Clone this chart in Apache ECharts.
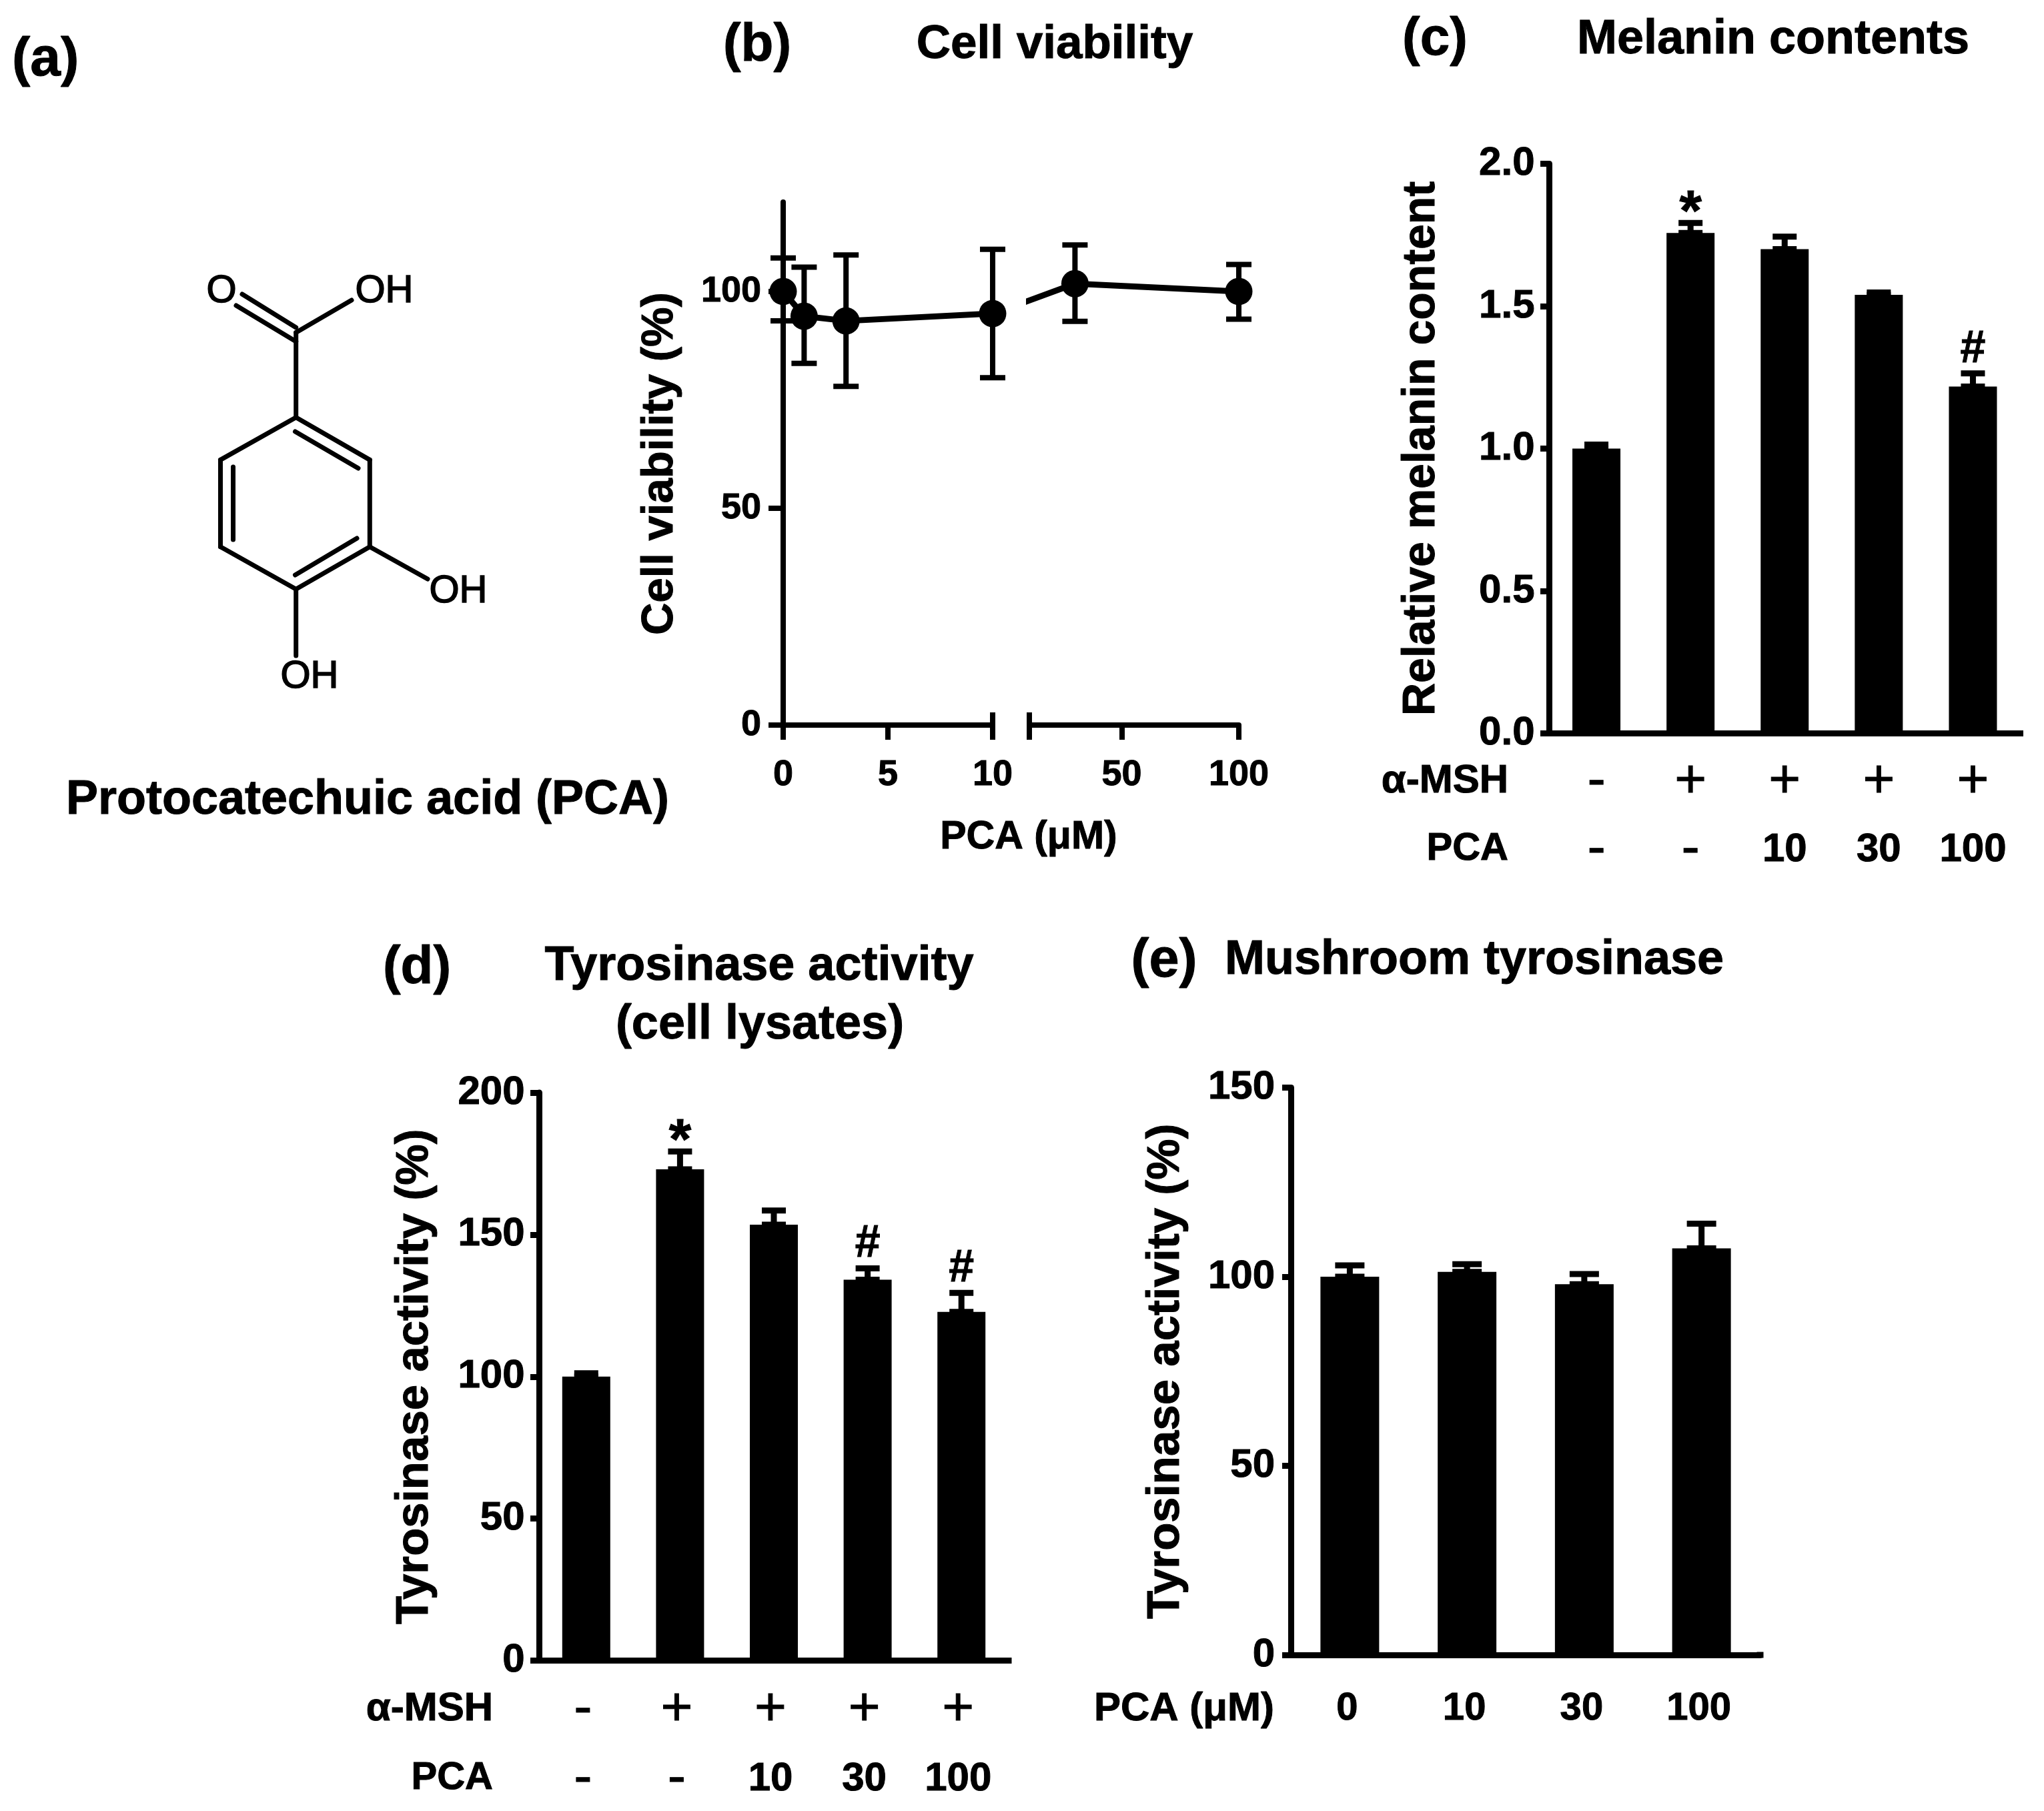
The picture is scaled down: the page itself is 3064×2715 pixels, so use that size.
<!DOCTYPE html>
<html>
<head>
<meta charset="utf-8">
<style>html,body{margin:0;padding:0;background:#fff}#c{width:3064px;height:2715px}</style>
<script src="https://cdn.jsdelivr.net/npm/echarts@6/dist/echarts.min.js"></script>
</head>
<body>
<div id="c"></div>
<script>
// Panel b: cell viability
const viabDoses = [0, 1, 3, 10, 30, 100];
const viabMean  = [100, 94.3, 93.2, 94.9, 101.8, 100];
const viabLower = [93.2, 83.4, 78.1, 80.1, 93.1, 93.6];
const viabUpper = [107.7, 105.6, 108.4, 109.7, 110.7, 106.2];
const viabBreakStart = [7.4, 97.3];           // where the line re-emerges from the axis gap
// Panel c: melanin
const groupMsh = ['-', '+', '+', '+', '+'];
const groupPca = ['-', '-', '10', '30', '100'];
const melanin    = [1.0, 1.757, 1.70, 1.54, 1.218];
const melaninErr = [1.014, 1.792, 1.744, 1.548, 1.264];
const melaninSig = [null, '*', null, null, '#'];
// Panel d: cellular tyrosinase
const tyrCell    = [100, 173, 153.5, 134.1, 122.8];
const tyrCellErr = [101.2, 179.3, 158.5, 138.1, 129.5];
const tyrCellSig = [null, '*', null, '#', '#'];
// Panel e: mushroom tyrosinase
const mushDoses = ['0', '10', '30', '100'];
const tyrMush    = [100, 101.3, 98, 107.5];
const tyrMushErr = [103, 103.3, 100.7, 114];

const FF = "'Liberation Sans'";
const BLACK = '#000';
const HEAVY = {textBorderColor: BLACK, textBorderWidth: 1};

function errorBars(xAxisIndex, yAxisIndex, rows, capWidth, lineW) {
  return {
    type: 'custom', xAxisIndex, yAxisIndex, z: 3, silent: true,
    encode: {x: 0, y: [1, 2]}, data: rows,
    renderItem(params, api) {
      const x = api.value(0);
      const lo = api.coord([x, api.value(1)]);
      const hi = api.coord([x, api.value(2)]);
      const st = {stroke: BLACK, lineWidth: lineW};
      const h = capWidth / 2;
      return {type: 'group', children: [
        {type: 'line', shape: {x1: lo[0], y1: lo[1], x2: hi[0], y2: hi[1]}, style: st},
        {type: 'line', shape: {x1: hi[0] - h, y1: hi[1], x2: hi[0] + h, y2: hi[1]}, style: st},
        {type: 'line', shape: {x1: lo[0] - h, y1: lo[1], x2: lo[0] + h, y2: lo[1]}, style: st}
      ]};
    }
  };
}
function sigMarks(xAxisIndex, yAxisIndex, tops, marks) {
  const rows = [];
  marks.forEach((m, i) => { if (m) rows.push([i, tops[i], m]); });
  return {
    type: 'custom', xAxisIndex, yAxisIndex, z: 4, silent: true,
    encode: {x: 0, y: 1}, data: rows,
    renderItem(params, api) {
      const p = api.coord([api.value(0), api.value(1)]);
      const star = rows[params.dataIndex][2] === '*';
      return {type: 'text', style: {
        x: p[0], y: p[1] + (star ? -13 : -36), text: rows[params.dataIndex][2],
        textAlign: 'center', textVerticalAlign: 'middle',
        font: `bold ${star ? 86 : 68}px ${FF}`, fill: BLACK, stroke: BLACK, lineWidth: 1
      }};
    }
  };
}
function barSeries(xAxisIndex, yAxisIndex, values, width) {
  return {
    type: 'bar', xAxisIndex, yAxisIndex, barWidth: width, z: 2, silent: true,
    itemStyle: {color: BLACK}, data: values
  };
}
function valueAxis(gridIndex, cfg) {
  return Object.assign({
    type: 'value', gridIndex, min: 0, splitLine: {show: false}, nameLocation: 'middle',
    nameRotate: 90,
    axisLine: {show: true, onZero: false, lineStyle: {color: BLACK, width: 9}},
    axisTick: {show: true, length: 13.5, lineStyle: {color: BLACK, width: 9}},
  }, cfg);
}
function yLabel(size, margin, fmt) {
  return Object.assign({margin, fontFamily: FF, fontWeight: 'bold', fontSize: size, color: BLACK, formatter: fmt}, HEAVY);
}
function yName(gap, size) {
  return {nameGap: gap, nameTextStyle: Object.assign({fontFamily: FF, fontWeight: 'bold', fontSize: size, color: BLACK, verticalAlign: 'middle'}, HEAVY)};
}
function catAxis(gridIndex, cats, margin, ext, size, padding, rich, formatter) {
  return {
    type: 'category', gridIndex, data: cats,
    axisTick: {show: false},
    axisLine: {show: true, onZero: false, symbol: ['none', 'rect'], symbolSize: [9, ext], lineStyle: {color: BLACK, width: 9}},
    axisLabel: Object.assign({margin, fontFamily: FF, fontWeight: 'bold', fontSize: size, color: BLACK, interval: 0, padding: padding || 0, rich, formatter}, HEAVY)
  };
}
function rowRich(lineHeight) {
  const base = Object.assign({fontFamily: FF, color: BLACK, lineHeight}, HEAVY);
  return {sym: Object.assign({fontSize: 82, fontWeight: 'normal'}, base), num: Object.assign({fontSize: 60, fontWeight: 'bold'}, base)};
}
const tag = v => (v === '+' || v === '-') ? `{sym|${v}}` : `{num|${v}}`;
const groups = groupMsh.map((m, i) => m + '/' + groupPca[i]);
const twoRows = (v) => { const [m, p] = v.split('/'); return tag(m) + '\n' + tag(p); };

function txt(x, y, text, size, align, weight) {
  return {type: 'text', silent: true, style: {
    x, y, text, textAlign: align || 'center', textVerticalAlign: 'middle',
    font: `${weight || 'bold'} ${size}px ${FF}`, fill: BLACK, stroke: BLACK, lineWidth: weight ? 1.6 : 1
  }};
}
function bond(x1, y1, x2, y2) {
  return {type: 'line', silent: true, shape: {x1, y1, x2, y2}, style: {stroke: BLACK, lineWidth: 7, lineCap: 'round'}};
}
const bAxisTick = (cfg) => Object.assign({show: true, length: 22, lineStyle: {color: BLACK, width: 8}}, cfg);
const bAxisLabel = (cfg) => Object.assign({margin: 48, fontFamily: FF, fontWeight: 'bold', fontSize: 54, color: BLACK}, HEAVY, cfg);

const option = {
  backgroundColor: '#fff',
  animation: false,
  grid: [
    {left: 1174, top: 303, width: 314, height: 784},
    {left: 1543, top: 303, width: 314, height: 784},
    {left: 2322.5, top: 245.5, width: 705.5, height: 854},
    {left: 808.5,  top: 1638, width: 703, height: 851.5},
    {left: 1935.5, top: 1630.5, width: 703, height: 850.5}
  ],
  xAxis: [
    {type: 'value', gridIndex: 0, min: 0, max: 10, interval: 5, splitLine: {show: false},
     axisLine: {show: true, onZero: false, lineStyle: {color: BLACK, width: 8}},
     axisTick: bAxisTick({}), axisLabel: bAxisLabel({})},
    {type: 'value', gridIndex: 1, min: 10.5, max: 100, splitLine: {show: false},
     axisLine: {show: true, onZero: false, lineStyle: {color: BLACK, width: 8}},
     axisTick: bAxisTick({customValues: [10.5, 50, 100]}),
     axisLabel: bAxisLabel({customValues: [50, 100]})},
    catAxis(2, groups, 22, 10, 60, 0, rowRich(102), twoRows),
    catAxis(3, groups, 22, 10, 60, [0, 10, 0, 0], rowRich(104), twoRows),
    catAxis(4, mushDoses, 52, 10, 58, [0, 8, 0, 0])
  ],
  yAxis: [
    valueAxis(0, Object.assign({
      max: 120.6, name: 'Cell viability (%)',
      axisLine: {show: true, onZero: false, lineStyle: {color: BLACK, width: 8}},
      axisTick: bAxisTick({customValues: [0, 50, 100]}),
      axisLabel: Object.assign(yLabel(54, 33), {customValues: [0, 50, 100]})
    }, yName(184, 67))),
    {type: 'value', gridIndex: 1, min: 0, max: 120.6, show: false, splitLine: {show: false}},
    valueAxis(2, Object.assign({
      max: 2, interval: 0.5, name: 'Relative melanin content',
      axisLabel: yLabel(60, 22, v => v.toFixed(1))
    }, yName(191, 68))),
    valueAxis(3, Object.assign({
      max: 200, interval: 50, name: 'Tyrosinase activity (%)',
      axisLabel: yLabel(60, 22)
    }, yName(187, 69))),
    valueAxis(4, Object.assign({
      max: 150, interval: 50, name: 'Tyrosinase activity (%)',
      axisLabel: yLabel(60, 24.5)
    }, yName(188, 69)))
  ],
  series: [
    // Panel b
    errorBars(0, 0, viabDoses.slice(0, 4).map((d, i) => [d, viabLower[i], viabUpper[i]]), 38, 8),
    errorBars(1, 1, viabDoses.slice(4).map((d, i) => [d, viabLower[i + 4], viabUpper[i + 4]]), 38, 8),
    {type: 'line', xAxisIndex: 0, yAxisIndex: 0, clip: false, z: 5, silent: true,
     symbol: 'circle', symbolSize: 41,
     lineStyle: {color: BLACK, width: 9}, itemStyle: {color: BLACK},
     data: viabDoses.slice(0, 4).map((d, i) => [d, viabMean[i]])},
    {type: 'line', xAxisIndex: 1, yAxisIndex: 1, clip: false, z: 5, silent: true,
     symbol: 'circle', symbolSize: 41,
     lineStyle: {color: BLACK, width: 9}, itemStyle: {color: BLACK},
     data: [{value: viabBreakStart, symbol: 'none'}].concat(viabDoses.slice(4).map((d, i) => [d, viabMean[i + 4]]))},
    // axis-break end caps rising above the baseline
    ...[[0, 10], [1, 10.5]].map(([ax, v]) => ({
      type: 'custom', xAxisIndex: ax, yAxisIndex: ax, silent: true, z: 3,
      encode: {x: 0, y: 1}, data: [[v, 0]],
      renderItem(params, api) {
        const p = api.coord([api.value(0), api.value(1)]);
        return {type: 'line', shape: {x1: p[0], y1: p[1], x2: p[0], y2: p[1] - 19},
                style: {stroke: BLACK, lineWidth: 8}};
      }
    })),
    // Panel c
    barSeries(2, 2, melanin, 72),
    errorBars(2, 2, melanin.map((v, i) => [i, v, melaninErr[i]]), 36, 9),
    sigMarks(2, 2, melaninErr, melaninSig),
    // Panel d
    barSeries(3, 3, tyrCell, 72),
    errorBars(3, 3, tyrCell.map((v, i) => [i, v, tyrCellErr[i]]), 36, 9),
    sigMarks(3, 3, tyrCellErr, tyrCellSig),
    // Panel e
    barSeries(4, 4, tyrMush, 88),
    errorBars(4, 4, tyrMush.map((v, i) => [i, v, tyrMushErr[i]]), 44, 9)
  ],
  graphic: {elements: [
    txt(18, 90, '(a)', 82, 'left'),
    txt(1135, 69, '(b)', 80),
    txt(1581, 67, 'Cell viability', 71),
    txt(2151, 60, '(c)', 80),
    txt(2658, 60, 'Melanin contents', 72),
    txt(625, 1452, '(d)', 80),
    txt(1138, 1449, 'Tyrosinase activity', 72),
    txt(1139, 1537, '(cell lysates)', 72),
    txt(1745, 1442, '(e)', 81),
    txt(2210, 1440, 'Mushroom tyrosinase', 72),
    txt(1542, 1256, 'PCA (μM)', 59),
    txt(1910, 2562, 'PCA (μM)', 60, 'right'),
    txt(2261, 1171, 'α-MSH', 60, 'right'),
    txt(2261, 1273, 'PCA', 58, 'right'),
    txt(739, 2562, 'α-MSH', 60, 'right'),
    txt(739, 2666, 'PCA', 58, 'right'),
    // Panel a: structure of protocatechuic acid
    txt(551, 1200, 'Protocatechuic acid (PCA)', 72, 'center'),
    bond(443.7, 625.8, 554.3, 689.4), bond(554.3, 689.4, 554.3, 819.7),
    bond(554.3, 819.7, 443.7, 883.3), bond(443.7, 883.3, 330.5, 819.7),
    bond(330.5, 819.7, 330.5, 689.4), bond(330.5, 689.4, 443.7, 625.8),
    bond(442.5, 647, 537, 702), bond(349.5, 700, 349.5, 809),
    bond(442.5, 862, 535, 807),
    bond(443.7, 625.8, 443.7, 498.5),
    bond(443.7, 512, 354, 458), bond(443.7, 491, 363, 441),
    bond(443.7, 498.5, 527, 450),
    bond(554.3, 819.7, 641, 868), bond(443.7, 883.3, 443.7, 983),
    txt(332, 437, 'O', 58, 'center', 'normal'),
    txt(576, 437, 'OH', 58, 'center', 'normal'),
    txt(687, 887, 'OH', 58, 'center', 'normal'),
    txt(464, 1015, 'OH', 58, 'center', 'normal')
  ]}
};
const chart = echarts.init(document.getElementById('c'), null, {renderer: 'canvas', width: 3064, height: 2715});
chart.setOption(option);
</script>
</body>
</html>
